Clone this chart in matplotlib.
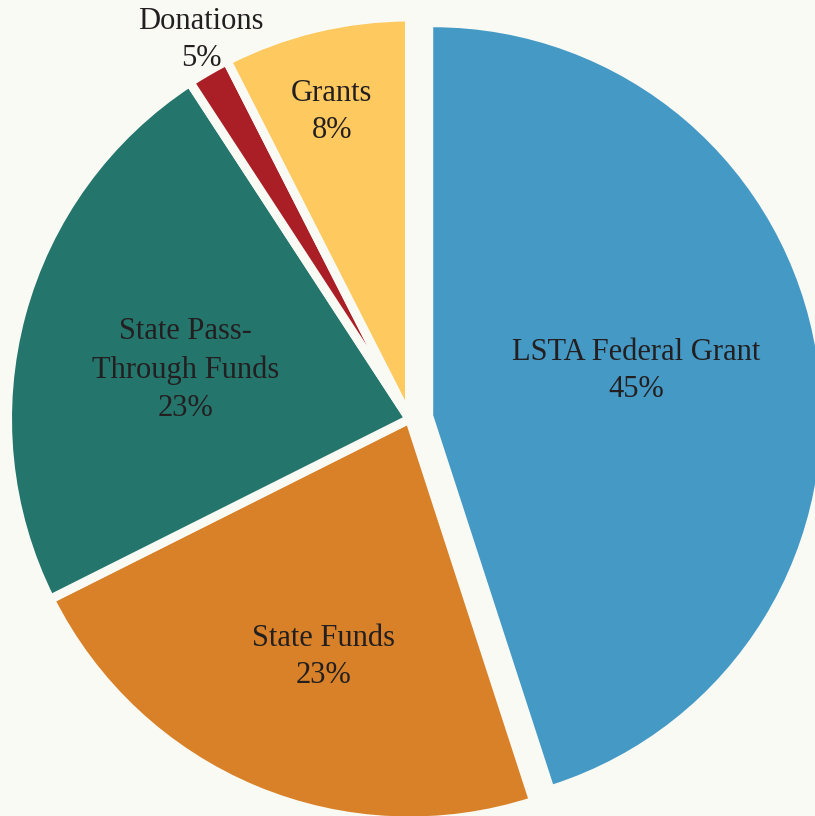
import matplotlib.pyplot as plt
import matplotlib as mpl

mpl.rcParams['font.family'] = ['Liberation Serif', 'DejaVu Serif']

# funding sources (share of the circle, printed labels kept as shown)
names = ['LSTA Federal Grant', 'State Funds', 'State Pass-\nThrough Funds', 'Donations', 'Grants']
shares = [45.0, 22.6, 23.2, 1.7, 7.5]
pct_text = ['45%', '23%', '23%', '5%', '8%']
colors = ['#4499c5', '#d98128', '#24756c', '#a91f25', '#fec95f']

bg = '#fafaf5'
ink = '#231f20'

# label centres, in pie-radius units from the centre
label_xy = [(0.566, 0.12), (-0.216, -0.595), (-0.559, 0.1225), (-0.521, 0.9475), (-0.194, 0.7675)]

fig = plt.figure(figsize=(8.15, 8.16), dpi=100, facecolor=bg)
ax = fig.add_axes([0, 0, 1, 1])
ax.set_facecolor(bg)

wedges, _ = ax.pie(shares, colors=colors, startangle=90, counterclock=False,
                   explode=[0.06, 0, 0, 0, 0], radius=1.005,
                   wedgeprops=dict(edgecolor=bg, linewidth=6.5))
# the pulled-out slice is drawn a bit smaller and without the gap line
wedges[0].set_linewidth(0)
wedges[0].set_radius(0.97)

for name, pct, (lx, ly) in zip(names, pct_text, label_xy):
    ax.text(lx, ly, name + '\n' + pct, ha='center', va='center',
            fontsize=22, color=ink, linespacing=1.4)

ax.set_xlim(-1.02375, 1.01375)
ax.set_ylim(-0.9925, 1.0475)
ax.set_aspect('equal')
ax.axis('off')

fig.savefig('out.png', dpi=100, facecolor=bg)
